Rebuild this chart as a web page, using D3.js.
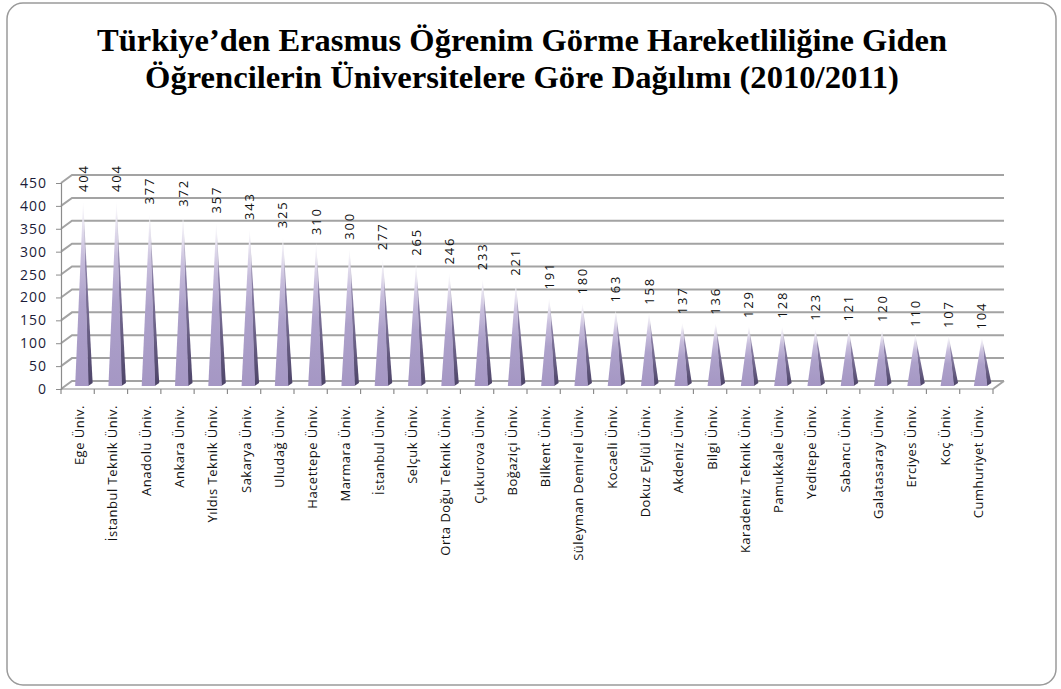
<!doctype html>
<html>
  <head>
    <meta charset="utf-8">
    <script src="https://cdnjs.cloudflare.com/ajax/libs/d3/7.8.5/d3.min.js"></script>
    <style>
    body { margin: 0; background: #fff; }
    .grid { stroke: #a3a3a3; stroke-width: 2; fill: none; }
    .axisline { stroke: #8c8c8c; stroke-width: 1.2; fill: none; }
    .ytick text { font-family: "Open Sans", sans-serif; font-size: 14px; fill: #1c1c38; letter-spacing: 1px; }
    .val { font-family: "Open Sans", sans-serif; font-size: 13px; fill: #111; letter-spacing: 1.8px; }
    .cat { font-family: "Open Sans", sans-serif; font-size: 13px; fill: #111; letter-spacing: 0.5px; }
    .title { font-family: "Liberation Serif", "Times New Roman", serif; font-weight: bold; font-size: 31px; fill: #000; }
    </style>
  </head>
  <body>
    <svg id="chart" width="1061" height="689"></svg>
    <script>
      var titleLines = ["Türkiye’den Erasmus Öğrenim Görme Hareketliliğine Giden",
                        "Öğrencilerin Üniversitelere Göre Dağılımı (2010/2011)"];

      var universities = ["Ege Üniv.", "İstanbul Teknik Üniv.", "Anadolu Üniv.", "Ankara Üniv.",
        "Yıldıs Teknik Üniv.", "Sakarya Üniv.", "Uludağ Üniv.", "Hacettepe Üniv.", "Marmara Üniv.",
        "İstanbul Üniv.", "Selçuk Üniv.", "Orta Doğu Teknik Üniv.", "Çukurova Üniv.", "Boğaziçi Üniv.",
        "Bilkent Üniv.", "Süleyman Demirel Üniv.", "Kocaeli Üniv.", "Dokuz Eylül Üniv.", "Akdeniz Üniv.",
        "Bilgi Üniv.", "Karadeniz Teknik Üniv.", "Pamukkale Üniv.", "Yeditepe Üniv.", "Sabancı Üniv.",
        "Galatasaray Üniv.", "Erciyes Üniv.", "Koç Üniv.", "Cumhuriyet Üniv."];

      var students = [404, 404, 377, 372, 357, 343, 325, 310, 300, 277, 265, 246, 233, 221,
        191, 180, 163, 158, 137, 136, 129, 128, 123, 121, 120, 110, 107, 104];

      var yTicks = [0, 50, 100, 150, 200, 250, 300, 350, 400, 450];

      var svg = d3.select("#chart");

      // frame
      svg.append("rect")
        .attr("x", 7).attr("y", 3).attr("width", 1049).attr("height", 682)
        .attr("rx", 16).attr("ry", 16)
        .style("fill", "#fff").style("stroke", "#9a9a9a").style("stroke-width", 1.5);

      svg.selectAll("text.title")
        .data(titleLines)
        .enter()
        .append("text")
          .attr("class", "title")
          .attr("x", 522)
          .attr("y", (d, i) => 51 + i * 37)
          .attr("text-anchor", "middle")
          .attr("textLength", (d, i) => i == 0 ? 850 : 754)
          .attr("lengthAdjust", "spacingAndGlyphs")
          .text(d => d);

      // 3D geometry: front plane and back wall offset
      var depthX = 11, depthY = -8;
      var frontBase = 389;

      var x = d3.scaleBand()
        .domain(universities)
        .range([61, 993]);

      var yFront = d3.scaleLinear()
        .domain([0, 450])
        .range([frontBase, frontBase - 206]);

      // back wall gridlines
      var g = svg.append("g");
      yTicks.forEach(t => {
        var yf = yFront(t);
        g.append("polyline")
          .attr("class", "grid")
          .attr("points", `61,${yf} ${61 + depthX},${yf + depthY} 1004,${yf + depthY}`);
      });
      // floor right edge
      g.append("line").attr("class", "grid")
        .attr("x1", 993).attr("y1", frontBase)
        .attr("x2", 993 + depthX).attr("y2", frontBase + depthY);

      // y axis (front)
      var yAxis = d3.axisLeft(yFront)
        .tickValues(yTicks)
        .tickSize(5)
        .tickPadding(9);
      var ya = svg.append("g")
        .attr("class", "ytick")
        .attr("transform", "translate(61,0)")
        .call(yAxis);
      ya.select(".domain").attr("class", "axisline domain");
      ya.selectAll(".tick line").style("stroke", "#8c8c8c");

      // x axis (front floor edge)
      svg.append("line").attr("class", "axisline")
        .attr("x1", 61).attr("y1", frontBase).attr("x2", 993).attr("y2", frontBase);
      svg.selectAll("line.xtick")
        .data(universities.concat(["__end"]))
        .enter()
        .append("line")
          .attr("class", "axisline")
          .attr("x1", (d, i) => 61 + i * x.bandwidth())
          .attr("x2", (d, i) => 61 + i * x.bandwidth())
          .attr("y1", frontBase)
          .attr("y2", frontBase + 5);

      // gradients for cone faces
      var defs = svg.append("defs");
      var lg = defs.append("linearGradient")
        .attr("id", "coneFront")
        .attr("x1", 0).attr("y1", 0).attr("x2", 0).attr("y2", 1);
      lg.append("stop").attr("offset", "0").attr("stop-color", "#ffffff");
      lg.append("stop").attr("offset", "0.3").attr("stop-color", "#c7bddc");
      lg.append("stop").attr("offset", "0.55").attr("stop-color", "#ada1ca");
      lg.append("stop").attr("offset", "1").attr("stop-color", "#a597c4");
      var lg2 = defs.append("linearGradient")
        .attr("id", "coneSide")
        .attr("x1", 0).attr("y1", 0).attr("x2", 0).attr("y2", 1);
      lg2.append("stop").attr("offset", "0").attr("stop-color", "#ffffff");
      lg2.append("stop").attr("offset", "0.35").attr("stop-color", "#8a7fa6");
      lg2.append("stop").attr("offset", "1").attr("stop-color", "#4d4468");

      var coneBase = frontBase + depthY / 2;
      var hScale = d3.scaleLinear().domain([0, 450]).range([0, 206]);
      var cx = d => x(d) + x.bandwidth() / 2 + depthX / 2;

      var data = universities.map((u, i) => ({ name: u, value: students[i] }));

      var cones = svg.selectAll("g.cone")
        .data(data)
        .enter()
        .append("g")
          .attr("class", "cone");

      cones.append("path")
        .style("fill", "url(#coneSide)")
        .attr("d", d => {
          var c = cx(d.name), top = coneBase - hScale(d.value);
          return `M${c + 5},${coneBase + 1} L${c + 9.5},${coneBase - 2} L${c},${top} Z`;
        });
      cones.append("path")
        .style("fill", "url(#coneFront)")
        .attr("d", d => {
          var c = cx(d.name), top = coneBase - hScale(d.value);
          return `M${c - 8},${coneBase + 1} L${c + 5.5},${coneBase + 1} L${c},${top} Z`;
        });

      // value labels
      svg.selectAll("text.val")
        .data(data)
        .enter()
        .append("text")
          .attr("class", "val")
          .attr("transform", d => `translate(${cx(d.name)},${coneBase - hScale(d.value) - 8}) rotate(-90)`)
          .attr("dy", "0.35em")
          .text(d => d.value);

      // category labels
      svg.selectAll("text.cat")
        .data(universities)
        .enter()
        .append("text")
          .attr("class", "cat")
          .attr("transform", d => `translate(${x(d) + x.bandwidth() / 2 + 2},405) rotate(-90)`)
          .attr("text-anchor", "end")
          .attr("dy", "0.35em")
          .text(d => d);
    </script>
  </body>
</html>
